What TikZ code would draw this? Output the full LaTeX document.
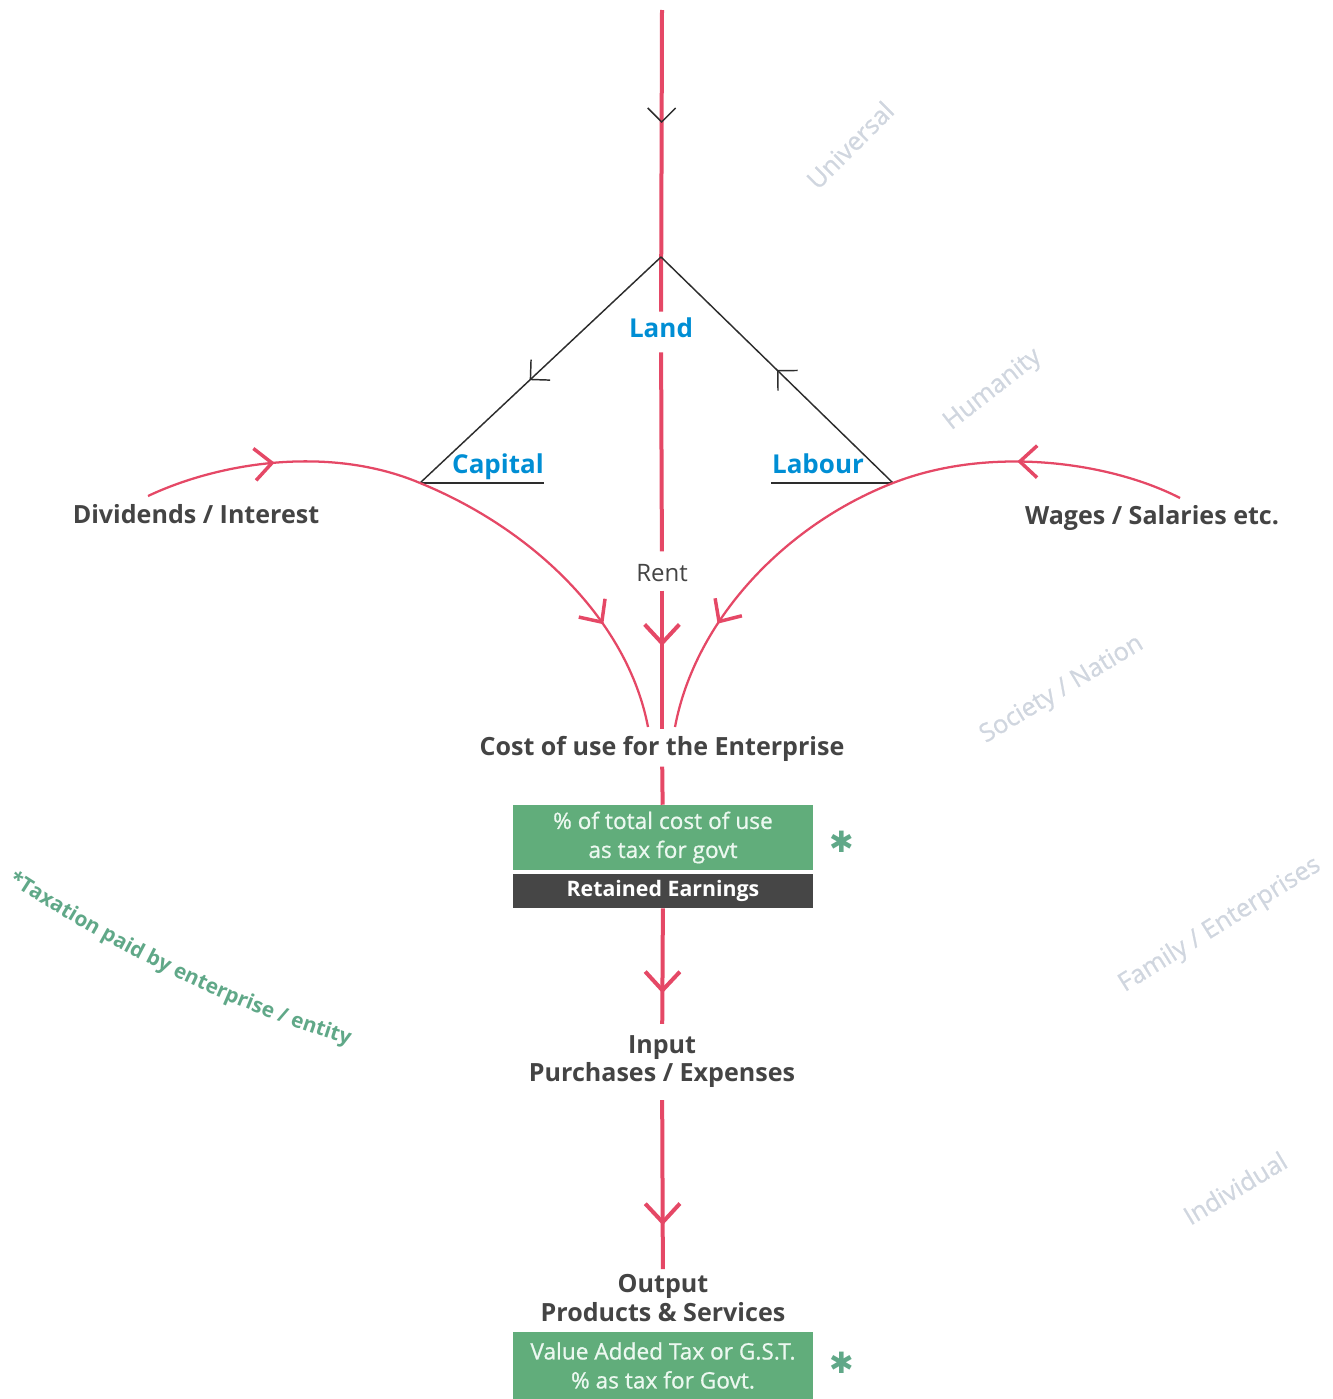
\documentclass[tikz,border=0pt]{standalone}
\usepackage{fontspec}
\setmainfont{Open Sans}
\newfontfamily\starfont{DejaVu Sans}
\newfontfamily\medfont[FakeBold=0.8]{Open Sans}
\usetikzlibrary{arrows.meta,decorations.markings,decorations.text}
\definecolor{flowred}{RGB}{229,72,102}
\definecolor{landblue}{RGB}{0,142,212}
\definecolor{labgray}{RGB}{68,68,68}
\definecolor{boxgreen}{RGB}{97,173,123}
\definecolor{boxtext}{RGB}{236,248,240}
\definecolor{boxdark}{RGB}{70,70,70}
\definecolor{taxgreen}{RGB}{96,168,136}
\definecolor{faint}{RGB}{208,214,223}
\definecolor{edgeblack}{RGB}{45,45,45}
\newcommand\labfont{\fontsize{18.8}{21}\selectfont\bfseries}
\newcommand\bluefont{\fontsize{19.5}{22}\selectfont\bfseries}
\newcommand\taxfont{\fontsize{15.6}{18}\selectfont\bfseries}
\tikzset{
  lab/.style={font=\labfont, text=labgray, inner sep=0pt},
  bluelab/.style={font=\bluefont, text=landblue, inner sep=0pt},
  faintlab/.style={font=\medfont\fontsize{19}{22}\selectfont, text=faint},
  greenbox/.style={fill=boxgreen, text=boxtext, font=\medfont\fontsize{17}{21.75}\selectfont, align=center,
    minimum width=225pt, inner sep=0pt},
  darkbox/.style={fill=boxdark, text=white, font=\fontsize{16}{20}\selectfont\bfseries, align=center,
    minimum width=225pt, inner sep=0pt},
  starlab/.style={font=\starfont\fontsize{22}{24}\selectfont, text=taxgreen},
  flow/.style={flowred, line width=3pt},
  thinflow/.style={flowred, line width=1.7pt},
  edge/.style={edgeblack, line width=1.1pt},
  redtip/.style={postaction={decorate, decoration={markings,
      mark=at position #1 with {\arrow{Straight Barb[length=14pt,width=26pt,line width=3pt]}}}}},
  curvetip/.style={postaction={decorate, decoration={markings,
      mark=at position #1 with {\arrow{Straight Barb[length=13pt,width=24pt,line width=2.6pt]}}}}},
  blacktip/.style={postaction={decorate, decoration={markings,
      mark=at position #1 with {\arrow{Straight Barb[length=10.5pt,width=21pt,line width=1.1pt,color=edgeblack]}}}}},
}
\begin{document}
\begin{tikzpicture}[x=0.75pt,y=-0.75pt]
\useasboundingbox (0,0) rectangle (1333,1399);

% coordinates
\coordinate (top) at (662,10);
\coordinate (apex) at (661,257);
\coordinate (capV) at (420,483);
\coordinate (labV) at (893,483);
\coordinate (capU) at (544,483);
\coordinate (labU) at (771,483);
\coordinate (divS) at (148,496);
\coordinate (wagS) at (1180,498);
\coordinate (endL) at (648,727);
\coordinate (endR) at (675,727);

% faint level labels
\node[faintlab, rotate=45] (univ) at (850,145) {Universal};
\node[faintlab, rotate=38] (human) at (993,390) {Humanity};
\node[faintlab, rotate=31] (society) at (1062,690) {Society / Nation};
\node[faintlab, rotate=32] (family) at (1220,925) {Family / Enterprises};
\node[faintlab, rotate=31] (indiv) at (1235,1188) {Individual};

% labels
\node[bluelab, anchor=base, text height=15pt, text depth=7.5pt, inner ysep=3.75pt] (land) at (661,337) {Land};
\node[bluelab, anchor=base] (capital) at (498,473) {Capital};
\node[bluelab, anchor=base] (labour) at (818,473) {Labour};
\node[lab, anchor=base] (div) at (196,523) {Dividends / Interest};
\node[lab, anchor=base] (wag) at (1152,524) {Wages / Salaries etc.};
\node[font=\fontsize{18}{21}\selectfont, text=labgray, anchor=base, text height=15pt, text depth=0pt,
      inner xsep=0pt, inner ysep=7pt] (rent) at (662,581) {Rent};
\node[lab, anchor=base, text height=15pt, text depth=4pt, inner ysep=4.5pt] (cost) at (662,755)
      {Cost of use for the Enterprise};
\node[greenbox, minimum height=48.75pt] (tax) at (663,837.5) {\% of total cost of use\\as tax for govt};
\node[darkbox, minimum height=25.5pt] (ret) at (663,891) {Retained Earnings};
\node[lab, align=center, font=\fontsize{18.8}{21}\selectfont\bfseries, inner ysep=9pt] (input) at (662,1062)
      {Input\\Purchases / Expenses};
\node[lab, align=center, font=\fontsize{18.8}{21.75}\selectfont\bfseries, inner ysep=3.75pt] (output) at (663,1298)
      {Output\\Products \& Services};
\node[greenbox, minimum height=50.25pt] (vat) at (663,1365.5) {Value Added Tax or G.S.T.\\\% as tax for Govt.};
\node[starlab] (star1) at (842,842) {✱};
\node[starlab] (star2) at (842,1363) {✱};

% footnote on a curve
\path[decorate, decoration={text along path, text align=left,
      text={|\taxfont\color{taxgreen}|*Taxation paid by enterprise / entity}}]
  (8,882) .. controls (100,942) and (220,1008) .. (360,1048);

% red main line
\draw[flow, blacktip=84.75pt] (top) -- (land);
\draw[flow] (land) -- (rent);
\draw[flow, redtip=41.6pt] (rent) -- (cost);
\draw[flow] (cost) -- (tax);
\draw[flow, redtip=63.75pt] (ret) -- (input);
\draw[flow, redtip=93.75pt] (input) -- (output);

% triangle
\draw[edge, blacktip=0.545] (apex) -- (capV);
\draw[edge, blacktip=0.5] (labV) -- (apex);
\draw[edge] (capV) -- (capU);
\draw[edge] (labU) -- (labV);

% red curves
\draw[thinflow, curvetip=0.47] (divS) .. controls (220,462) and (330,445) .. (capV);
\draw[thinflow, curvetip=0.675] (capV) .. controls (535,530) and (628,622) .. (endL);
\draw[thinflow, curvetip=0.57] (wagS) .. controls (1110,462) and (990,445) .. (labV);
\draw[thinflow, curvetip=0.67] (labV) .. controls (785,525) and (695,620) .. (endR);
\end{tikzpicture}
\end{document}
